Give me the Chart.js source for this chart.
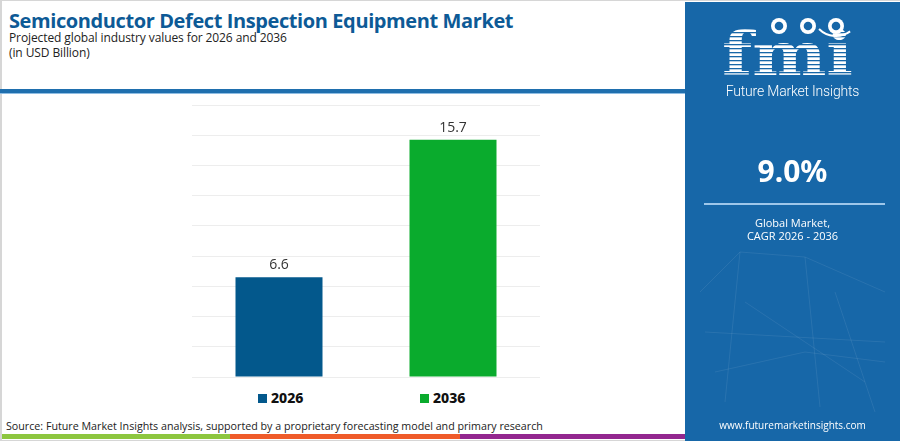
<!DOCTYPE html>
<html>
<head>
<meta charset="utf-8">
<script src="https://cdn.jsdelivr.net/npm/chart.js@4.4.0/dist/chart.umd.min.js"></script>
<style>
  html, body { margin: 0; padding: 0; }
  body { width: 900px; height: 441px; position: relative; overflow: hidden; background: #fff; font-family: "Open Sans", sans-serif; }
  .frame { position: absolute; left: 0; top: 0; width: 898px; height: 439px; border: 1px solid #d6d6d6; border-left-width: 2px; box-sizing: content-box; }
  .title { position: absolute; left: 9px; top: 7px; font-size: 20px; font-weight: 700; color: #0d5a96; letter-spacing: -0.4px; white-space: nowrap; }
  .sub { position: absolute; left: 9px; font-size: 12px; color: #222; white-space: nowrap; letter-spacing: -0.1px; }
  .rule { position: absolute; left: 0; top: 89px; width: 686px; height: 4px; background: #1f6fae; border-bottom: 1px solid #8fbde3; }
  #chartBox { position: absolute; left: 192px; top: 100px; width: 348px; height: 282px; }
  .legend { position: absolute; top: 388px; font-size: 14px; font-weight: 800; color: #111; white-space: nowrap; font-family: "Noto Sans", sans-serif; }
  .legend i { display: inline-block; width: 9px; height: 9px; margin-right: 4px; vertical-align: 0px; }
  .source { position: absolute; left: 6px; top: 419px; font-size: 10.7px; color: #222; white-space: nowrap; }
  .stripe { position: absolute; top: 434px; height: 5px; }
  .panel { position: absolute; left: 685px; top: 2px; width: 215px; height: 439px; background: #1767a8; color: #fff; text-align: center; }
  .panel .brand { position: absolute; left: 0; width: 215px; top: 81px; font-size: 14px; font-family: "Roboto", sans-serif; font-weight: 300; letter-spacing: -0.2px; }
  .panel .cagr { position: absolute; left: 0; width: 215px; top: 148px; font-size: 30px; font-weight: 700; font-family: "Noto Sans", sans-serif; }
  .panel .line { position: absolute; left: 19px; width: 181px; top: 201px; height: 2px; background: #9ec7ea; }
  .panel .lbl { position: absolute; left: 0; width: 215px; top: 214px; font-size: 11px; line-height: 13px; }
  .panel .url { position: absolute; left: 0; width: 215px; top: 416px; font-size: 10px; }
  #logo { position: absolute; left: 0; top: 0; }
</style>
</head>
<body>
<div class="frame"></div>
<div class="title">Semiconductor Defect Inspection Equipment Market</div>
<div class="sub" style="top:29px">Projected global industry values for 2026 and 2036</div>
<div class="sub" style="top:44px">(in USD Billion)</div>
<div class="rule"></div>

<div id="chartBox"><canvas id="marketChart"></canvas></div>
<div id="legend"></div>

<div class="source">Source: Future Market Insights analysis, supported by a proprietary forecasting model and primary research</div>
<div class="stripe" style="left:2px;width:228px;background:#8dc63f"></div>
<div class="stripe" style="left:230px;width:230px;background:#ef5b2a"></div>
<div class="stripe" style="left:460px;width:225px;background:#93278f"></div>

<div class="panel">
  <canvas id="logo" width="215" height="439"></canvas>
  <div class="brand">Future Market Insights</div>
  <div class="cagr">9.0%</div>
  <div class="line"></div>
  <div class="lbl">Global Market,<br>CAGR 2026 - 2036</div>
  <div class="url">www.futuremarketinsights.com</div>
</div>

<script>
// Dados do gráfico
const years = ['2026', '2036'];
const marketValues = [6.6, 15.7];
const barColors = ['#03588c', '#0aab2d'];

// Rótulos de valor acima das barras
const valueLabels = {
    id: 'valueLabels',
    afterDatasetsDraw(chart) {
        const ctx = chart.ctx;
        const meta = chart.getDatasetMeta(0);
        ctx.save();
        ctx.font = '14px "Open Sans", sans-serif';
        ctx.fillStyle = '#333';
        ctx.textAlign = 'center';
        ctx.textBaseline = 'bottom';
        meta.data.forEach((bar, i) => {
            ctx.fillText(marketValues[i].toFixed(1), bar.x, bar.y - 5);
        });
        ctx.restore();
    }
};

const marketCtx = document.getElementById('marketChart').getContext('2d');
const marketChart = new Chart(marketCtx, {
    type: 'bar',
    data: {
        labels: years,
        datasets: [{
            label: 'USD Billion',
            data: marketValues,
            backgroundColor: barColors,
            borderWidth: 0,
            categoryPercentage: 1,
            barPercentage: 0.5
        }]
    },
    options: {
        responsive: true,
        maintainAspectRatio: false,
        animation: false,
        layout: { padding: { top: 5, bottom: 5, left: 0, right: 0 } },
        scales: {
            x: {
                display: false
            },
            y: {
                min: 0,
                max: 18,
                ticks: { display: false, stepSize: 2 },
                border: { display: false },
                grid: { color: '#ededed', drawTicks: false },
                afterFit: scale => { scale.width = 0; }
            }
        },
        plugins: {
            legend: { display: false },
            tooltip: { enabled: false }
        }
    },
    plugins: [valueLabels]
});

// Legenda
const legendPos = [258, 420];
document.getElementById('legend').innerHTML = years.map((y, i) =>
    `<div class="legend" style="left:${legendPos[i]}px"><i style="background:${barColors[i]}"></i>${y}</div>`
).join('');

// Logo fmi
const lg = document.getElementById('logo').getContext('2d');
lg.fillStyle = '#fff';
lg.font = 'bold 60px "DejaVu Serif", serif';
const w = lg.measureText('fmi').width;
lg.save();
lg.translate(37, 73);
lg.scale(131 / w, 1);
lg.fillText('fmi', 0, 0);
lg.restore();
// listras horizontais
lg.fillStyle = '#1767a8';
for (let y = 22; y < 74; y += 4) {
    lg.fillRect(30, y, 150, 1.3);
}
// globos
[[94, 24], [123, 24], [151, 24]].forEach(([cx, cy]) => {
    lg.fillStyle = '#fff';
    lg.beginPath(); lg.arc(cx, cy, 8, 0, Math.PI * 2); lg.fill();
    lg.fillStyle = '#1767a8';
    lg.beginPath(); lg.arc(cx, cy, 4.3, 0, Math.PI * 2); lg.fill();
});
lg.strokeStyle = '#fff';
lg.lineWidth = 2;
lg.beginPath();
lg.arc(151, 10, 24, Math.PI * 0.3, Math.PI * 0.75);
lg.stroke();

// linhas de rede suaves
lg.strokeStyle = 'rgba(255,255,255,0.08)';
lg.lineWidth = 1;
const net = [[15,290,55,250],[55,250,120,255],[120,255,200,290],[55,250,40,400],[120,255,135,405],[20,330,200,340],[60,300,180,380],[150,290,190,410],[30,370,120,350],[120,350,200,360]];
net.forEach(([a,b,c,d]) => { lg.beginPath(); lg.moveTo(a,b); lg.lineTo(c,d); lg.stroke(); });
</script>
</body>
</html>
